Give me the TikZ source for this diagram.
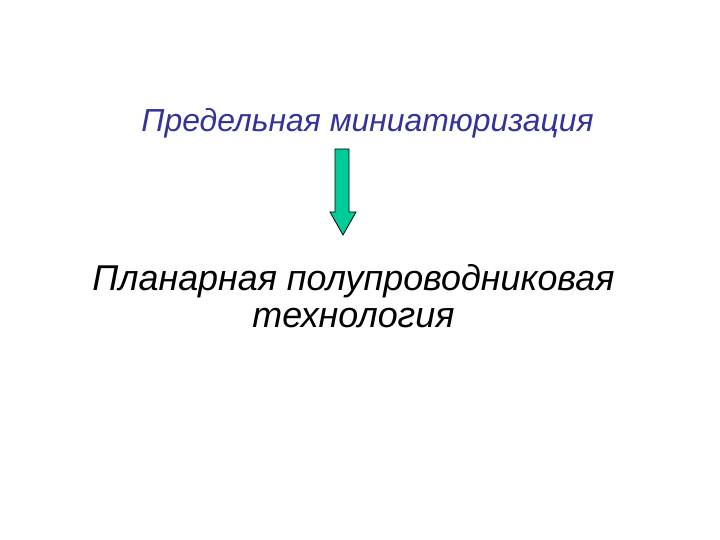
\documentclass[tikz,border=0pt]{standalone}
\usepackage{fontspec}
\setmainfont{Liberation Sans}
\usetikzlibrary{positioning}
\definecolor{titleblue}{RGB}{51,51,153}
\definecolor{arrowgreen}{RGB}{0,204,153}
\begin{document}
\begin{tikzpicture}[x=1bp,y=1bp,font=\itshape]
				\useasboundingbox (0,0) rectangle (720,540);
				\node[anchor=base,text=titleblue,font=\itshape\fontsize{32}{38}\selectfont] (goal) at (367.5,408) {Предельная миниатюризация};
				\node[anchor=base,align=center,font=\itshape\fontsize{36}{38}\selectfont] (tech) at (353.5,212) {Планарная полупроводниковая\\технология};
				\coordinate (tip) at (343,305);
				\draw[fill=arrowgreen,line width=0.8pt] (tip) -- ++(-13,23) -- ++(5,0) -- ++(0,63) -- ++(14,0) -- ++(0,-63) -- ++(7,0) -- cycle;
			\end{tikzpicture}
\end{document}
